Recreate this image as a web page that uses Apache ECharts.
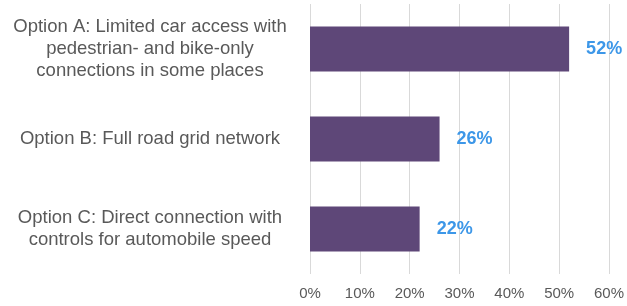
<!DOCTYPE html>
<html lang="en">
<head>
    <meta charset="UTF-8">
    <title>Options</title>
    <style>
        html, body { margin: 0; padding: 0; background: #fff; }
    </style>
</head>
<body>
<div id="main" style="width: 627px;height:306px;"></div>
<script src="https://cdn.jsdelivr.net/npm/echarts@6/dist/echarts.min.js"></script>
<script>
    var categories = [
        'Option A: Limited car access with\npedestrian- and bike-only\nconnections in some places',
        'Option B: Full road grid network',
        'Option C: Direct connection with\ncontrols for automobile speed'
    ];
    var shares = [52, 26, 22];
    var tickValues = [0, 10, 20, 30, 40, 50, 60];

    var myChart = echarts.init(document.getElementById('main'));

    var option = {
        backgroundColor: '#fff',
        animation: false,
        textStyle: { fontFamily: 'Liberation Sans, Arial, sans-serif' },
        grid: { left: 310, right: 16, top: 4, bottom: 32, containLabel: false },
        xAxis: {
            type: 'value',
            min: tickValues[0],
            max: tickValues[tickValues.length - 1],
            interval: 10,
            axisLine: { show: false },
            axisTick: { show: false },
            splitLine: { lineStyle: { color: '#d9d9d9', width: 1 } },
            axisLabel: {
                formatter: '{value}%',
                color: '#595959',
                fontSize: 15,
                margin: 12
            }
        },
        yAxis: {
            type: 'category',
            inverse: true,
            data: categories,
            axisLine: { show: false },
            axisTick: { show: false },
            axisLabel: {
                align: 'center',
                margin: 160,
                color: '#595959',
                fontSize: 18.5,
                lineHeight: 22
            }
        },
        series: [
            {
                type: 'bar',
                data: shares,
                barCategoryGap: '50%',
                itemStyle: { color: '#5e4778' },
                label: {
                    show: true,
                    position: 'right',
                    distance: 17,
                    formatter: '{c}%',
                    color: '#3d97e8',
                    fontWeight: 'bold',
                    fontSize: 18
                }
            }
        ]
    };

    myChart.setOption(option);
</script>
</body>
</html>
